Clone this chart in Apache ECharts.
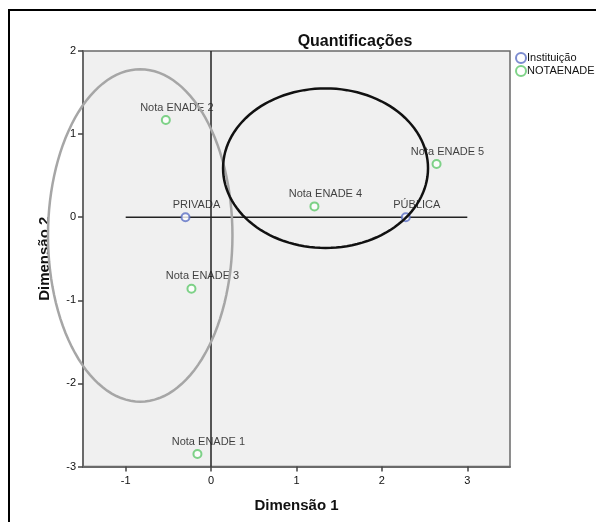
<!DOCTYPE html>
<html>
<head>
<meta charset="utf-8">
<script src="https://cdn.jsdelivr.net/npm/echarts@6/dist/echarts.min.js"></script>
<style>
  html, body { margin: 0; padding: 0; background: #fff; }
  #chart { width: 596px; height: 522px; }
</style>
</head>
<body>
<div id="chart"></div>
<script>
// Category quantifications: institution type
const institLabels = ['PRIVADA', 'PÚBLICA'];
const institX = [-0.30, 2.28];
const institY = [0.00, 0.00];

// Category quantifications: ENADE grade
const notaLabels = ['Nota ENADE 1', 'Nota ENADE 2', 'Nota ENADE 3', 'Nota ENADE 4', 'Nota ENADE 5'];
const notaX = [-0.16, -0.53, -0.23, 1.21, 2.64];
const notaY = [-2.85, 1.17, -0.86, 0.13, 0.64];

// Axis ticks
const xTicks = [-1, 0, 1, 2, 3];
const yTicks = [-3, -2, -1, 0, 1, 2];

// Reference segment along the first dimension
const refLineX = [-1, 3];
const refLineY = [0, 0];

// Grouping ellipses in data units: [centerX, centerY, radiusX, radiusY]
const groupEllipses = [[-0.83, -0.22, 1.08, 2.00], [1.34, 0.59, 1.20, 0.96]];
const ellipseColors = ['#a6a6a6', '#111111'];

const FONT = '"Liberation Sans", Arial, sans-serif';

const toPoints = (xs, ys, names) => xs.map((x, i) => ({ value: [x, ys[i]], name: names[i] }));

const pointLabel = {
  show: true,
  position: 'top',
  distance: 2,
  offset: [11, 0],
  formatter: p => p.name,
  color: '#111',
  fontSize: 11,
  fontFamily: FONT
};

const chart = echarts.init(document.getElementById('chart'), null, { renderer: 'canvas' });

chart.setOption({
  animation: false,
  backgroundColor: '#ffffff',
  title: {
    text: 'Quantificações',
    left: 350,
    top: 29,
    textAlign: 'center',
    textStyle: { fontSize: 16, fontWeight: 'bold', color: '#111', fontFamily: FONT }
  },
  legend: {
    orient: 'vertical',
    left: 510,
    top: 47,
    itemWidth: 10,
    itemHeight: 10,
    itemGap: 1,
    itemStyle: { borderWidth: 1.3 },
    textStyle: { fontSize: 11, color: '#111', fontFamily: FONT, padding: [0, 0, 0, -4] },
    data: ['Instituição', 'NOTAENADE']
  },
  graphic: [{
    type: 'rect',
    shape: { x: 9, y: 10, width: 700, height: 700 },
    style: { fill: 'none', stroke: '#000', lineWidth: 2 },
    silent: true,
    z: -10
  }],
  grid: {
    left: 83,
    right: 86,
    top: 51,
    height: 415.5,
    show: true,
    backgroundColor: '#f0f0f0',
    borderColor: '#6a6a6a',
    borderWidth: 1.5
  },
  xAxis: {
    type: 'value',
    min: -1.5,
    max: 3.5,
    name: 'Dimensão 1',
    nameLocation: 'middle',
    nameGap: 32,
    nameTextStyle: { fontSize: 15, fontWeight: 'bold', color: '#111', fontFamily: FONT },
    axisLine: { show: true, onZero: false, lineStyle: { color: '#6a6a6a', width: 2 } },
    axisTick: { show: true, length: 5, customValues: xTicks, lineStyle: { color: '#444', width: 1.5 } },
    axisLabel: { customValues: xTicks, fontSize: 11, color: '#111', margin: 9, fontFamily: FONT },
    splitLine: { show: false }
  },
  yAxis: {
    type: 'value',
    min: -3,
    max: 2,
    interval: 1,
    name: 'Dimensão 2',
    nameLocation: 'middle',
    nameGap: 31,
    nameTextStyle: { fontSize: 15, fontWeight: 'bold', color: '#111', fontFamily: FONT },
    axisLine: { show: true, onZero: false, lineStyle: { color: '#6a6a6a', width: 2 } },
    axisTick: { show: true, length: 5, customValues: yTicks, lineStyle: { color: '#444', width: 1.5 } },
    axisLabel: { customValues: yTicks, fontSize: 11, color: '#111', margin: 7, fontFamily: FONT },
    splitLine: { show: false }
  },
  series: [
    {
      name: 'ref',
      type: 'line',
      data: refLineX.map((x, i) => [x, refLineY[i]]),
      showSymbol: false,
      symbol: 'none',
      lineStyle: { color: '#222', width: 1.5 },
      silent: true,
      z: 1,
      markLine: {
        silent: true,
        symbol: 'none',
        label: { show: false },
        lineStyle: { color: '#222', width: 1.5, type: 'solid' },
        data: [{ xAxis: 0 }]
      }
    },
    {
      name: 'Instituição',
      type: 'scatter',
      symbol: 'emptyCircle',
      symbolSize: 8,
      itemStyle: { color: '#5b6fc4', borderWidth: 1.5 },
      label: pointLabel,
      data: toPoints(institX, institY, institLabels),
      z: 3
    },
    {
      name: 'NOTAENADE',
      type: 'scatter',
      symbol: 'emptyCircle',
      symbolSize: 8,
      itemStyle: { color: '#5fc86b', borderWidth: 1.5 },
      label: pointLabel,
      data: toPoints(notaX, notaY, notaLabels),
      z: 3
    },
    {
      name: 'ellipses',
      type: 'custom',
      coordinateSystem: 'cartesian2d',
      clip: false,
      silent: true,
      z: 10,
      data: groupEllipses,
      renderItem: (params, api) => {
        const cx = api.value(0), cy = api.value(1), rx = api.value(2), ry = api.value(3);
        const pts = [];
        for (let k = 0; k <= 120; k++) {
          const t = (k / 120) * Math.PI * 2;
          pts.push(api.coord([cx + rx * Math.cos(t), cy + ry * Math.sin(t)]));
        }
        return {
          type: 'polyline',
          shape: { points: pts },
          style: { fill: 'none', stroke: ellipseColors[params.dataIndex], lineWidth: 2.5 }
        };
      }
    }
  ]
});
</script>
</body>
</html>
